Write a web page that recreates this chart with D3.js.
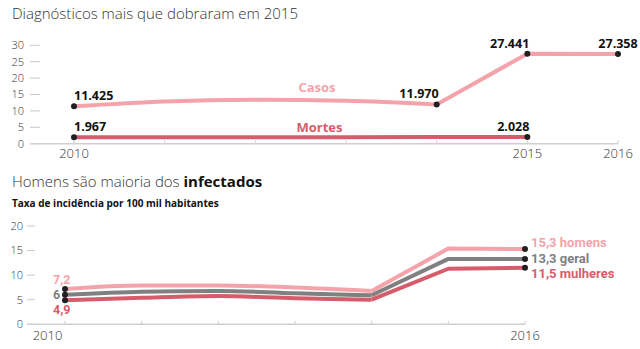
<!DOCTYPE html>
<html><head><meta charset="utf-8">
<script src="https://cdn.jsdelivr.net/npm/d3@7"></script>
<style>
html,body{margin:0;padding:0;background:#fff;}
svg{display:block;font-family:"Open Sans","Noto Sans",sans-serif;}
</style></head>
<body>
<svg id="c" width="640" height="349"></svg>
<script>
// ---- data ----
const years = [2010, 2011, 2012, 2013, 2014, 2015, 2016];
const casos = [11.425, 12.9, 13.4, 13.1, 11.970, 27.441, 27.358];
const mortes = [1.967, 1.95, 2.0, 2.0, 2.01, 2.028];
const casosLabels = [[0, "11.425", "start"], [4, "11.970", "end"], [5, "27.441", "end"], [6, "27.358", "middle"]];
const mortesLabels = [[0, "1.967", "start"], [5, "2.028", "end"]];
const topTicks = [0, 5, 10, 15, 20, 25, 30];
const topYearLabels = [2010, 2015, 2016];

const homens = [7.2, 7.9, 7.9, 7.5, 6.8, 15.4, 15.3];
const geral = [6.0, 6.6, 6.8, 6.3, 5.9, 13.3, 13.3];
const mulheres = [4.9, 5.4, 5.75, 5.3, 5.0, 11.3, 11.5];
const botTicks = [0, 5, 10, 15, 20];
const botYearLabels = [2010, 2016];
const startLabels = ["7,2", "6", "4,9"];
const endLabels = ["15,3 homens", "13,3 geral", "11,5 mulheres"];

const PINK = "#f5a3ab", RED = "#d65c6c", GRAY = "#808080", DOT = "#231f20", TXT = "#333";

const svg = d3.select("#c");

function drawSeries(g, x, y, vals, color) {
  const pts = vals.map((v, i) => [years[i], v]);
  const curved = d3.line().x(d => x(d[0])).y(d => y(d[1])).curve(d3.curveMonotoneX);
  const straight = d3.line().x(d => x(d[0])).y(d => y(d[1]));
  g.append("path").attr("d", curved(pts.slice(0, 5))).attr("fill", "none")
    .attr("stroke", color).attr("stroke-width", 4);
  g.append("path").attr("d", straight(pts.slice(4))).attr("fill", "none")
    .attr("stroke", color).attr("stroke-width", 4).attr("stroke-linejoin", "round");
}

function yAxis(g, y, ticks, x0, x1, xl) {
  ticks.forEach(t => {
    g.append("line").attr("x1", x0).attr("x2", x1).attr("y1", y(t)).attr("y2", y(t))
      .attr("stroke", "#c8c8c8").attr("stroke-width", 1);
    g.append("text").attr("x", xl).attr("y", y(t)).attr("dy", "0.35em")
      .attr("text-anchor", "end").attr("font-size", 11).attr("font-weight", 300)
      .attr("fill", TXT).text(t);
  });
}

function xAxis(g, x, y0, xStart, labels, labelY, shift) {
  g.append("line").attr("x1", xStart).attr("x2", x(2016)).attr("y1", y0).attr("y2", y0)
    .attr("stroke", "#d0d0d0").attr("stroke-width", 1.5);
  years.forEach(yr => {
    g.append("line").attr("x1", x(yr)).attr("x2", x(yr)).attr("y1", y0 - 3.5).attr("y2", y0)
      .attr("stroke", "#d0d0d0").attr("stroke-width", 1);
  });
  labels.forEach(yr => {
    g.append("text").attr("x", x(yr) + (shift[yr] || 0)).attr("y", labelY)
      .attr("text-anchor", "middle").attr("font-size", 13).attr("font-weight", 300)
      .attr("fill", TXT).text(yr);
  });
}

// ---------- top chart ----------
const g1 = svg.append("g");
g1.append("text").attr("x", 12).attr("y", 19).attr("font-size", 15).attr("font-weight", 300)
  .attr("fill", TXT).text("Diagnósticos mais que dobraram em 2015");

const x1 = d3.scaleLinear().domain([2010, 2016]).range([74, 618]);
const y1 = d3.scaleLinear().domain([0, 30]).range([143.7, 45.3]);
yAxis(g1, y1, topTicks, 30, 40, 24);
xAxis(g1, x1, 143.7, 30, topYearLabels, 158, {});

drawSeries(g1, x1, y1, casos, PINK);
// mortes (ends in 2015)
g1.append("path").attr("d", d3.line().x((d, i) => x1(years[i])).y(d => y1(d)).curve(d3.curveMonotoneX)(mortes))
  .attr("fill", "none").attr("stroke", RED).attr("stroke-width", 4);

g1.append("text").attr("x", 317).attr("y", 92).attr("text-anchor", "middle").attr("font-size", 13)
  .attr("font-weight", 700).attr("fill", PINK).text("Casos");
g1.append("text").attr("x", 319.5).attr("y", 132).attr("text-anchor", "middle").attr("font-size", 13)
  .attr("font-weight", 700).attr("fill", RED).text("Mortes");

function dotsAndLabels(g, x, y, vals, labels) {
  labels.forEach(([i, txt, anchor]) => {
    g.append("circle").attr("cx", x(years[i])).attr("cy", y(vals[i])).attr("r", 3).attr("fill", DOT);
    const dx = anchor === "end" ? 2 : 0;
    g.append("text").attr("x", x(years[i]) + dx).attr("y", y(vals[i]) - 6)
      .attr("text-anchor", anchor).attr("font-size", 12.5).attr("font-weight", 700)
      .attr("fill", "#111").text(txt);
  });
}
dotsAndLabels(g1, x1, y1, casos, casosLabels);
dotsAndLabels(g1, x1, y1, mortes, mortesLabels);

// ---------- bottom chart ----------
const g2 = svg.append("g");
const t2 = g2.append("text").attr("x", 12).attr("y", 187).attr("font-size", 15).attr("fill", TXT);
t2.append("tspan").attr("font-weight", 300).text("Homens são maioria dos ");
t2.append("tspan").attr("font-weight", 700).attr("fill", "#111").text("infectados");
g2.append("text").attr("x", 12).attr("y", 207).attr("font-size", 10).attr("font-weight", 700)
  .attr("fill", "#111").text("Taxa de incidência por 100 mil habitantes");

const x2 = d3.scaleLinear().domain([2010, 2016]).range([65, 525]);
const y2 = d3.scaleLinear().domain([0, 20]).range([324.3, 226]);
yAxis(g2, y2, botTicks, 27, 35, 23);
xAxis(g2, x2, 324.3, 27, botYearLabels, 340, {2010: -17.5});

const series = [homens, geral, mulheres];
const colors = [PINK, GRAY, RED];
series.forEach((s, k) => drawSeries(g2, x2, y2, s, colors[k]));
series.forEach((s, k) => {
  g2.append("circle").attr("cx", x2(2010)).attr("cy", y2(s[0])).attr("r", 3).attr("fill", DOT);
  g2.append("circle").attr("cx", x2(2016)).attr("cy", y2(s[6])).attr("r", 3).attr("fill", DOT);
});
const startY = [284, 299, 314];
startLabels.forEach((t, k) => {
  g2.append("text").attr("x", 53).attr("y", startY[k]).attr("font-family", "Roboto, sans-serif")
    .attr("font-size", 12.5).attr("font-weight", 700).attr("fill", colors[k]).text(t);
});
const endY = [247, 263, 278];
endLabels.forEach((t, k) => {
  g2.append("text").attr("x", 531).attr("y", endY[k]).attr("font-family", "Roboto, sans-serif")
    .attr("font-size", 13).attr("font-weight", 700).attr("fill", colors[k]).text(t);
});
</script>
</body></html>
